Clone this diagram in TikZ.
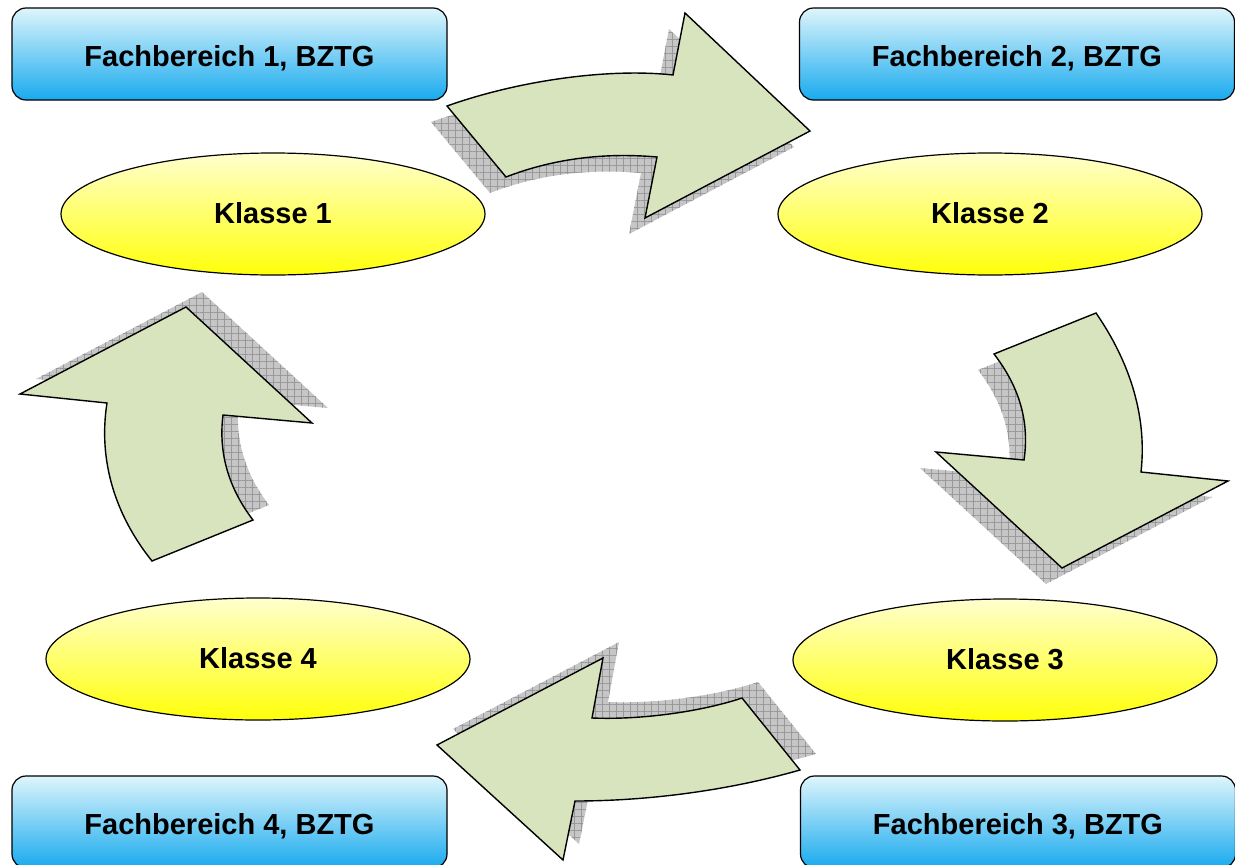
\documentclass[tikz,border=0pt]{standalone}
\usepackage{fontspec}
\setmainfont{Liberation Sans}
\usepackage{tikz}
\usetikzlibrary{shapes.geometric, patterns.meta}
\usepackage{xcolor}

\definecolor{boxtop}{RGB}{222,245,252}
\definecolor{boxbot}{RGB}{24,170,238}
\definecolor{elltop}{RGB}{255,255,205}
\definecolor{ellbot}{RGB}{255,255,10}
\definecolor{pfeilgruen}{RGB}{215,228,189}

\begin{document}
\begin{tikzpicture}[
    x=1pt, y=-1pt,
    fach/.style={draw, line width=1.2pt, rounded corners=14pt,
        minimum width=435pt, minimum height=92pt, inner sep=0pt,
        text height=24pt, text depth=0pt,
        top color=boxtop, bottom color=boxbot,
        font=\fontsize{29}{34}\selectfont\bfseries},
    klasse/.style={ellipse, draw, line width=1.2pt,
        minimum width=424pt, minimum height=122pt, inner sep=0pt,
        text height=18pt, text depth=0pt,
        top color=elltop, bottom color=ellbot,
        font=\fontsize{29}{34}\selectfont\bfseries},
    pfeil/.style={draw, line width=1.4pt, fill=pfeilgruen, line join=miter},
    schatten/.style={fill=gray!45,
        postaction={pattern={Lines[angle=0, distance=7pt, line width=0.5pt]}, pattern color=gray!80},
        postaction={pattern={Lines[angle=90, distance=7pt, line width=0.5pt]}, pattern color=gray!80}},
]
\useasboundingbox (0,0) rectangle (1235,865);

% Arrow outlines
\def\pfeilA{(447,106) .. controls (520,80) and (610,68) .. (673,75)
    -- (685,13) -- (810,131) -- (645,218) -- (657,157)
    .. controls (600,152) and (550,160) .. (506,177) -- cycle}
\def\pfeilB{(994,354) -- (1096,313) .. controls (1125,355) and (1148,410) .. (1141,472)
    -- (1228,481) -- (1062,568) -- (936,452) -- (1024,460)
    .. controls (1030,420) and (1018,385) .. (994,354) -- cycle}
\def\pfeilC{(742,698) -- (800,770) .. controls (730,790) and (650,801) .. (575,801)
    -- (563,860) -- (437,745) -- (603,658) -- (592,718)
    .. controls (640,720) and (700,712) .. (742,698) -- cycle}
\def\pfeilD{(152,561) -- (253,520) .. controls (230,490) and (218,455) .. (223,415)
    -- (312,423) -- (186,307) -- (20,394) -- (107,403)
    .. controls (98,460) and (115,515) .. (152,561) -- cycle}

% Shadows
\path[schatten, shift={(-16,16)}] \pfeilA;
\path[schatten, shift={(-16,16)}] \pfeilB;
\path[schatten, shift={(16,-16)}] \pfeilC;
\path[schatten, shift={(16,-15)}] \pfeilD;

% Arrows
\draw[pfeil] \pfeilA;
\draw[pfeil] \pfeilB;
\draw[pfeil] \pfeilC;
\draw[pfeil] \pfeilD;

% Fachbereiche
\node[fach] (fb1) at (229.5,54) {Fachbereich 1, BZTG};
\node[fach] (fb2) at (1017,54) {Fachbereich 2, BZTG};
\node[fach] (fb3) at (1018,822) {Fachbereich 3, BZTG};
\node[fach] (fb4) at (229.5,822) {Fachbereich 4, BZTG};

% Klassen
\node[klasse] (k1) at (273,214) {Klasse 1};
\node[klasse] (k2) at (990,214) {Klasse 2};
\node[klasse] (k3) at (1005,660) {Klasse 3};
\node[klasse] (k4) at (258,659) {Klasse 4};

\end{tikzpicture}
\end{document}
